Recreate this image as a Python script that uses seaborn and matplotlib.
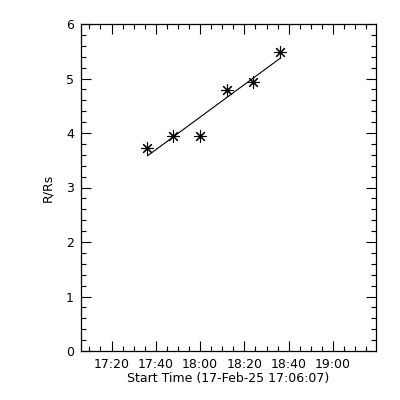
import pandas as pd
import numpy as np
import matplotlib
matplotlib.use('Agg')
import matplotlib.pyplot as plt
import matplotlib.dates as mdates
import seaborn as sns

# Data
times = ['2025-02-17 17:36:10', '2025-02-17 17:47:40', '2025-02-17 17:59:50',
         '2025-02-17 18:11:55', '2025-02-17 18:24:00', '2025-02-17 18:36:15']
heights = [3.72, 3.95, 3.95, 4.79, 4.93, 5.48]
x_start = '2025-02-17 17:06:07'
x_end = '2025-02-17 19:19:25'

df = pd.DataFrame({'t': mdates.date2num(pd.to_datetime(times)), 'R': heights})

sns.set_style('ticks')
plt.rcParams['font.family'] = ['DejaVu Sans']
plt.rcParams['text.color'] = 'black'
plt.rcParams['axes.labelcolor'] = 'black'

fig = plt.figure(figsize=(4, 4), dpi=100)
ax = fig.add_axes([0.202, 0.1225, 0.738, 0.8175])

# data points plus linear fit over the data range
sns.regplot(data=df, x='t', y='R', ax=ax, ci=None, truncate=True,
            marker=(8, 2, 0),
            scatter_kws={'s': 70, 'color': 'black', 'linewidths': 0.8, 'alpha': 1},
            line_kws={'color': 'black', 'lw': 0.8})

ax.set_xlim(mdates.date2num(pd.Timestamp(x_start)), mdates.date2num(pd.Timestamp(x_end)))
ax.set_ylim(0, 6)

ax.xaxis.set_major_locator(mdates.MinuteLocator(byminute=[0, 20, 40]))
ax.xaxis.set_minor_locator(mdates.MinuteLocator(byminute=range(0, 60, 5)))
ax.xaxis.set_major_formatter(mdates.DateFormatter('%H:%M'))
ax.yaxis.set_major_locator(plt.MultipleLocator(1))
ax.yaxis.set_minor_locator(plt.MultipleLocator(0.2))

ax.tick_params(which='both', direction='in', top=True, right=True, colors='black',
               labelsize=9, width=0.8)
ax.tick_params(which='major', length=7, pad=5)
ax.tick_params(which='minor', length=3.5)
for s in ax.spines.values():
    s.set_color('black')
    s.set_linewidth(0.9)

ax.set_xlabel('Start Time (17-Feb-25 17:06:07)', fontsize=9, labelpad=1, color='black')
ax.set_ylabel('R/Rs', fontsize=9, labelpad=8, color='black')

fig.savefig('out.png', dpi=100, facecolor='white')
